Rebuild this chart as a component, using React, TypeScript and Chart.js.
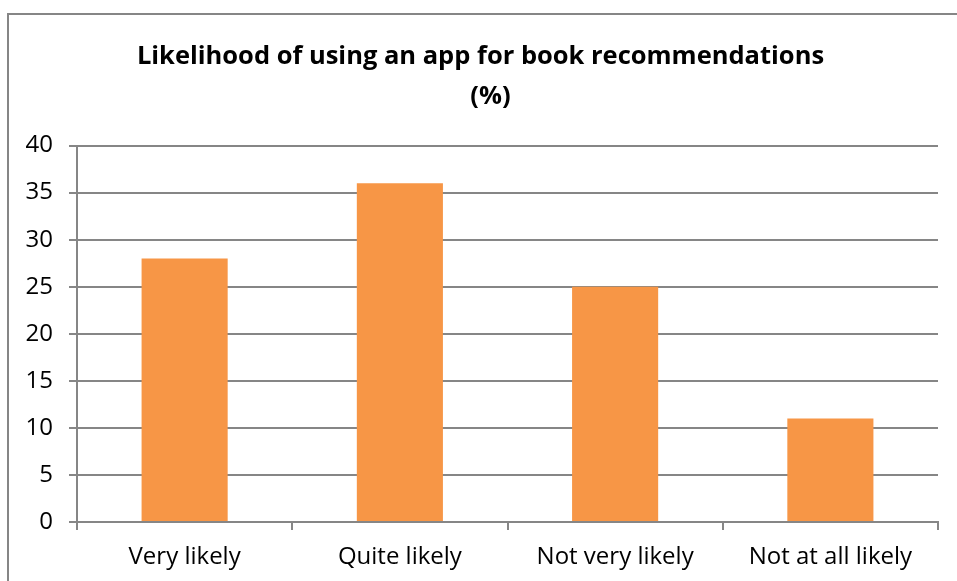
import React, { useEffect, useRef } from "react";
import { Chart, registerables } from "chart.js";

Chart.register(...registerables);

const categories = ["Very likely", "Quite likely", "Not very likely", "Not at all likely"];
const values = [28, 36, 25, 11];
const titleLines = ["Likelihood of using an app for book recommendations", "   (%)"];
const yMin = 0;
const yMax = 40;
const yStep = 5;

export default function App() {
  const ref = useRef<HTMLCanvasElement | null>(null);
  useEffect(() => {
    if (!ref.current) return;
    const grid = "#868686";
    const chart = new Chart(ref.current, {
      type: "bar",
      data: {
        labels: categories,
        datasets: [
          {
            data: values,
            backgroundColor: "#F79646",
            borderWidth: 0,
            barPercentage: 0.4,
            categoryPercentage: 1,
          },
        ],
      },
      options: {
        responsive: false,
        animation: false,
        layout: { padding: { left: 14, right: 15, top: 0, bottom: 0 } },
        plugins: {
          legend: { display: false },
          tooltip: { enabled: false },
          title: {
            display: true,
            text: titleLines,
            color: "#000",
            font: { family: "Open Sans", size: 25.5, weight: "bold", lineHeight: 1.58 },
            padding: { top: 21.5, bottom: 28.5 },
          },
        },
        scales: {
          x: {
            afterFit: (s: any) => {
              s.height = 60;
            },
            grid: {
              offset: true,
              drawOnChartArea: false,
              drawTicks: true,
              tickLength: 8,
              color: grid,
              lineWidth: 2,
            },
            border: { color: grid, width: 2 },
            ticks: {
              color: "#000",
              font: { family: "Open Sans", size: 24 },
              padding: 13,
              maxRotation: 0,
            },
          },
          y: {
            min: yMin,
            max: yMax,
            afterFit: (s: any) => {
              s.width = 54;
            },
            ticks: {
              stepSize: yStep,
              color: "#000",
              font: { family: "Open Sans", size: 24 },
              padding: 16,
            },
            grid: { color: grid, lineWidth: 2, tickLength: 8 },
            border: { color: grid, width: 2 },
          },
        },
      },
    });
    return () => chart.destroy();
  }, []);
  return (
    <div
      style={{
        position: "fixed",
        left: 7,
        top: 13,
        width: 960,
        height: 580,
        borderTop: "2px solid #868686",
        borderLeft: "2px solid #868686",
        background: "#fff",
      }}
    >
      <canvas ref={ref} width={944} height={567} style={{ display: "block" }} />
    </div>
  );
}
